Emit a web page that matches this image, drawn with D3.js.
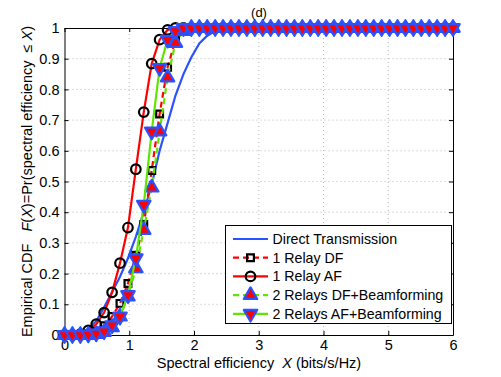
<!DOCTYPE html>
<html>
<head>
<meta charset="utf-8">
<script src="https://cdn.jsdelivr.net/npm/d3@7"></script>
<style>
  body { margin: 0; background: #fff; }
  svg { font-family: "Liberation Sans", Arial, Helvetica, sans-serif; }
</style>
</head>
<body>
<div id="chart"></div>
<script>
// x points where the CDFs were sampled (50 points from 0 to 6)
var xGrid = [0, 0.122, 0.245, 0.367, 0.49, 0.612, 0.735, 0.857, 0.98, 1.102,
             1.224, 1.347, 1.469, 1.592, 1.714, 1.837, 1.959, 2.082, 2.204, 2.327,
             2.449, 2.571, 2.694, 2.816, 2.939, 3.061, 3.184, 3.306, 3.429, 3.551,
             3.673, 3.796, 3.918, 4.041, 4.163, 4.286, 4.408, 4.531, 4.653, 4.776,
             4.898, 5.02, 5.143, 5.265, 5.388, 5.51, 5.633, 5.755, 5.878, 6];

var directTx = [0, 0, 0.003, 0.02, 0.045, 0.09, 0.14, 0.19, 0.25, 0.32,
                0.40, 0.49, 0.60, 0.69, 0.78, 0.85, 0.905, 0.95, 0.975, 0.99,
                0.997, 1, 1, 1, 1, 1, 1, 1, 1, 1,
                1, 1, 1, 1, 1, 1, 1, 1, 1, 1,
                1, 1, 1, 1, 1, 1, 1, 1, 1, 1];

var relay1DF = [0, 0, 0, 0.003, 0.012, 0.03, 0.06, 0.103, 0.168, 0.26,
                0.36, 0.536, 0.72, 0.872, 0.96, 0.99, 1, 1, 1, 1,
                1, 1, 1, 1, 1, 1, 1, 1, 1, 1,
                1, 1, 1, 1, 1, 1, 1, 1, 1, 1,
                1, 1, 1, 1, 1, 1, 1, 1, 1, 1];

var relay1AF = [0, 0, 0.003, 0.015, 0.035, 0.073, 0.139, 0.234, 0.35, 0.54,
                0.726, 0.884, 0.962, 0.994, 1, 1, 1, 1, 1, 1,
                1, 1, 1, 1, 1, 1, 1, 1, 1, 1,
                1, 1, 1, 1, 1, 1, 1, 1, 1, 1,
                1, 1, 1, 1, 1, 1, 1, 1, 1, 1];

var relays2DF = [0, 0, 0, 0, 0.003, 0.01, 0.025, 0.06, 0.125, 0.217,
                 0.342, 0.48, 0.663, 0.839, 0.951, 0.99, 1, 1, 1, 1,
                 1, 1, 1, 1, 1, 1, 1, 1, 1, 1,
                 1, 1, 1, 1, 1, 1, 1, 1, 1, 1,
                 1, 1, 1, 1, 1, 1, 1, 1, 1, 1];

var relays2AF = [0, 0, 0, 0.002, 0.005, 0.012, 0.032, 0.06, 0.13, 0.25,
                 0.424, 0.663, 0.87, 0.962, 0.99, 1, 1, 1, 1, 1,
                 1, 1, 1, 1, 1, 1, 1, 1, 1, 1,
                 1, 1, 1, 1, 1, 1, 1, 1, 1, 1,
                 1, 1, 1, 1, 1, 1, 1, 1, 1, 1];

var seriesNames = ['Direct Transmission', '1 Relay DF', '1 Relay AF',
                   '2 Relays DF+Beamforming', '2 Relays AF+Beamforming'];

var xTicks = [0, 1, 2, 3, 4, 5, 6];
var xTickLabels = ['0', '1', '2', '3', '4', '5', '6'];
var yTicks = [0, 0.1, 0.2, 0.3, 0.4, 0.5, 0.6, 0.7, 0.8, 0.9, 1];
var yTickLabels = ['0', '0.1', '0.2', '0.3', '0.4', '0.5', '0.6', '0.7', '0.8', '0.9', '1'];

///// styles of each series
var blue = '#2a52ff', red = '#ff0000', green = '#5fe600';
var styles = [
  { data: directTx, line: blue, dash: null, marker: null },
  { data: relay1DF, line: red, dash: '6,4', marker: 'square' },
  { data: relay1AF, line: red, dash: null, marker: 'circle' },
  { data: relays2DF, line: green, dash: '6,4', marker: 'up' },
  { data: relays2AF, line: green, dash: null, marker: 'down' }
];

var fullWidth = 501;
var fullHeight = 377;
var margin = {top: 28, right: 48, bottom: 42, left: 64.5};

var svg = d3.select('#chart').append('svg')
  .attr('width', fullWidth)
  .attr('height', fullHeight);

var x = d3.scaleLinear().domain([0, 6]).range([margin.left, fullWidth - margin.right]);
var y = d3.scaleLinear().domain([0, 1]).range([fullHeight - margin.bottom, margin.top]);

// dotted grid
var grid = svg.append('g').attr('stroke', '#b8b8b8').attr('stroke-dasharray', '1,3').attr('stroke-width', 1);
grid.selectAll('.gx').data(xTicks.slice(1, -1)).enter().append('line')
  .attr('x1', function(d) { return x(d); }).attr('x2', function(d) { return x(d); })
  .attr('y1', y(0)).attr('y2', y(1));
grid.selectAll('.gy').data(yTicks.slice(1, -1)).enter().append('line')
  .attr('y1', function(d) { return y(d); }).attr('y2', function(d) { return y(d); })
  .attr('x1', x(0)).attr('x2', x(6));

// axes with inward ticks
var fmtX = function(d, i) { return xTickLabels[i]; };
var fmtY = function(d, i) { return yTickLabels[i]; };
svg.append('g').attr('class', 'axis')
  .attr('transform', 'translate(0,' + y(0) + ')')
  .call(d3.axisBottom(x).tickValues(xTicks).tickFormat(fmtX).tickSizeInner(-4).tickSizeOuter(0).tickPadding(5));
svg.append('g').attr('class', 'axis')
  .attr('transform', 'translate(' + x(0) + ',0)')
  .call(d3.axisLeft(y).tickValues(yTicks).tickFormat(fmtY).tickSizeInner(-4).tickSizeOuter(0).tickPadding(5));
svg.append('g').attr('class', 'axis')
  .attr('transform', 'translate(0,' + y(1) + ')')
  .call(d3.axisTop(x).tickValues(xTicks).tickFormat('').tickSizeInner(-4).tickSizeOuter(0));
svg.append('g').attr('class', 'axis')
  .attr('transform', 'translate(' + x(6) + ',0)')
  .call(d3.axisRight(y).tickValues(yTicks).tickFormat('').tickSizeInner(-4).tickSizeOuter(0));

svg.selectAll('.axis text').attr('font-size', 14.5).attr('fill', '#000')
  .attr('font-family', '"Liberation Sans", Arial, sans-serif');
svg.selectAll('.axis path, .axis line').attr('stroke', '#000');

// marker shapes
function markerPath(kind) {
  if (kind === 'square') return d3.symbol().type(d3.symbolSquare).size(46)();
  if (kind === 'circle') return d3.symbol().type(d3.symbolCircle).size(72)();
  return d3.symbol().type(d3.symbolTriangle).size(78)();
}
function drawMarker(g, kind, px, py) {
  var p = g.append('path').attr('d', markerPath(kind))
    .attr('transform', 'translate(' + px + ',' + py + ')' + (kind === 'down' ? ' rotate(180)' : ''));
  if (kind === 'square' || kind === 'circle') {
    p.attr('fill', 'none').attr('stroke', '#000').attr('stroke-width', 2.2);
  } else {
    p.attr('fill', red).attr('stroke', blue).attr('stroke-width', 2.2).attr('stroke-linejoin', 'round');
  }
}

var line = d3.line()
  .x(function(d, i) { return x(xGrid[i]); })
  .y(function(d) { return y(d); });

// draw curves, each followed by its markers
styles.forEach(function(s) {
  svg.append('path')
    .attr('d', line(s.data))
    .attr('fill', 'none')
    .attr('stroke', s.line)
    .attr('stroke-width', 2.2)
    .attr('stroke-dasharray', s.dash);
  if (s.marker) {
    var mg = svg.append('g');
    s.data.forEach(function(d, i) { drawMarker(mg, s.marker, x(xGrid[i]), y(d)); });
  }
});

// legend
var lg = svg.append('g');
lg.append('rect').attr('x', 225.5).attr('y', 225.5).attr('width', 226).attr('height', 98)
  .attr('fill', '#fff').attr('stroke', '#000').attr('stroke-width', 1);
styles.forEach(function(s, i) {
  var ly = 239 + i * 18.7;
  lg.append('line').attr('x1', 233).attr('x2', 268).attr('y1', ly).attr('y2', ly)
    .attr('stroke', s.line).attr('stroke-width', 2.2).attr('stroke-dasharray', s.dash);
  if (s.marker) drawMarker(lg, s.marker, 250.5, ly);
  lg.append('text').attr('x', 272.5).attr('y', ly).attr('dominant-baseline', 'central')
    .attr('font-size', 14.2).text(seriesNames[i]);
});

// title and axis labels
svg.append('text').attr('x', 259).attr('y', 17).attr('text-anchor', 'middle')
  .attr('font-size', 13).text('(d)');

var xl = svg.append('text').attr('x', 259).attr('y', 368).attr('text-anchor', 'middle').attr('font-size', 14.5)
  .attr('xml:space', 'preserve');
xl.append('tspan').text('Spectral efficiency  ');
xl.append('tspan').attr('font-style', 'italic').text('X');
xl.append('tspan').text(' (bits/s/Hz)');

var yl = svg.append('text').attr('transform', 'translate(32,' + ((y(0) + y(1)) / 2) + ') rotate(-90)')
  .attr('text-anchor', 'middle').attr('font-size', 14.5).attr('xml:space', 'preserve');
yl.append('tspan').text('Empirical CDF   ');
yl.append('tspan').attr('font-style', 'italic').text('F');
yl.append('tspan').text('(');
yl.append('tspan').attr('font-style', 'italic').text('X');
yl.append('tspan').text(')=Pr(spectral efficiency  \u2264 ');
yl.append('tspan').attr('font-style', 'italic').text('X');
yl.append('tspan').text(')');
</script>
</body>
</html>
